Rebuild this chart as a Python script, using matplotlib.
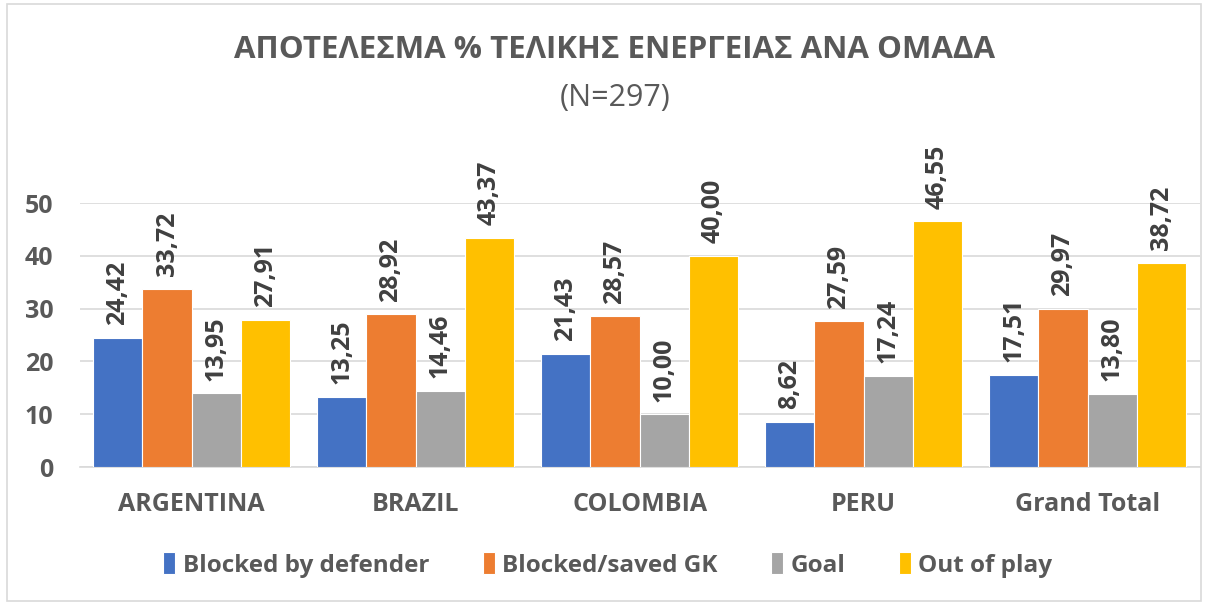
import numpy as np
import matplotlib
matplotlib.use("Agg")
import matplotlib.pyplot as plt
from matplotlib.patches import Rectangle

plt.rcParams['font.family'] = ['Open Sans', 'DejaVu Sans']

# data
teams = ['ARGENTINA', 'BRAZIL', 'COLOMBIA', 'PERU', 'Grand Total']
blocked_def = [24.42, 13.25, 21.43, 8.62, 17.51]
blocked_gk = [33.72, 28.92, 28.57, 27.59, 29.97]
goal = [13.95, 14.46, 10.00, 17.24, 13.80]
out_of_play = [27.91, 43.37, 40.00, 46.55, 38.72]
series_names = ['Blocked by defender', 'Blocked/saved GK', 'Goal', 'Out of play']
colors = ['#4472C4', '#ED7D31', '#A5A5A5', '#FFC000']
series = [blocked_def, blocked_gk, goal, out_of_play]

txt = '#595959'

fig = plt.figure(figsize=(12.08, 6.03), dpi=100)
ax = fig.add_axes([0.066, 0.2255, 0.927, 0.4378])

x = np.arange(len(teams))
w = 0.22
for i, (vals, c, name) in enumerate(zip(series, colors, series_names)):
    pos = x + (i - 1.5) * w
    bars = ax.bar(pos, vals, w, color=c, edgecolor='white', linewidth=0.8, label=name, zorder=3)
    for b, v in zip(bars, vals):
        ax.text(b.get_x() + b.get_width() / 2, v + 2.4, f'{v:.2f}'.replace('.', ','),
                rotation=90, ha='center', va='bottom', fontsize=18, fontweight='bold',
                color='#404040', clip_on=False)

ax.set_xlim(-0.5, len(teams) - 0.5)
ax.set_ylim(0, 50)
ax.set_yticks(range(0, 51, 10))
ax.set_xticks(x)
ax.set_xticklabels(teams)
ax.yaxis.grid(True, color='#D9D9D9', linewidth=1.2, zorder=0)
ax.set_axisbelow(True)
for s in ['top', 'right', 'left']:
    ax.spines[s].set_visible(False)
ax.spines['bottom'].set_color('#D9D9D9')
ax.spines['bottom'].set_linewidth(1.2)
ax.tick_params(axis='both', length=0, labelsize=18, labelcolor=txt)
ax.tick_params(axis='x', pad=18)
ax.tick_params(axis='y', pad=19)
for lab in ax.get_xticklabels() + ax.get_yticklabels():
    lab.set_fontweight('bold')

fig.text(0.509, 0.917, 'ΑΠΟΤΕΛΕΣΜΑ % ΤΕΛΙΚΗΣ ΕΝΕΡΓΕΙΑΣ ΑΝΑ ΟΜΑΔΑ', ha='center', va='center',
         fontsize=22.5, fontweight='bold', color=txt)
fig.text(0.509, 0.837, '(N=297)', ha='center', va='center', fontsize=22, color=txt)

leg = fig.legend(loc='center', bbox_to_anchor=(0.503, 0.063), ncol=4, frameon=False,
                 fontsize=17.5, handlelength=0.5, handleheight=1.0, handletextpad=0.3,
                 columnspacing=2.2)
for t in leg.get_texts():
    t.set_color(txt)
    t.set_fontweight('bold')

fig.patches.append(Rectangle((0.006, 0.004), 0.988, 0.99, transform=fig.transFigure,
                             fill=False, edgecolor='#D9D9D9', linewidth=1.2))

fig.savefig('out.png', dpi=100)
